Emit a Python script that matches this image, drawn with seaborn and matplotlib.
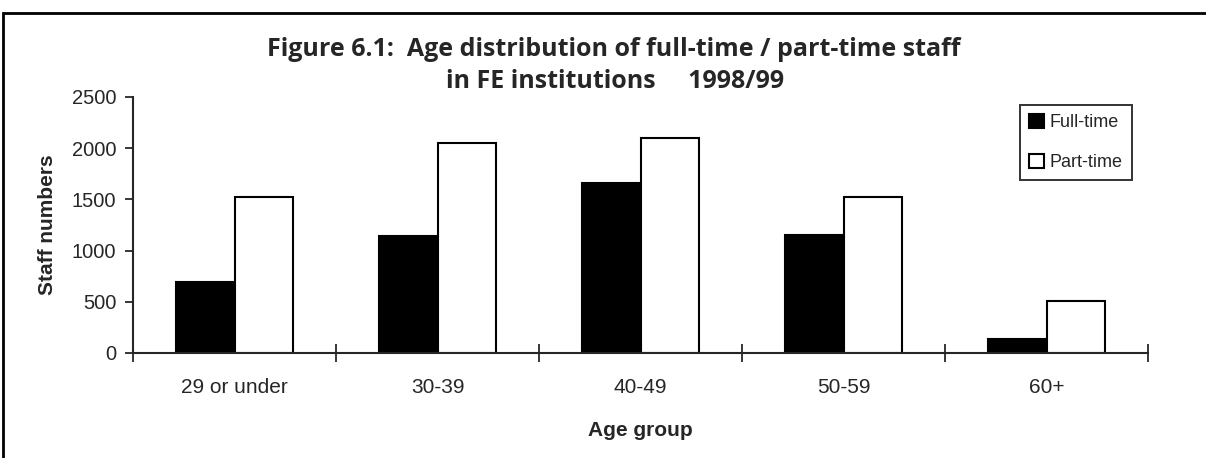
import matplotlib
matplotlib.use('Agg')

import pandas as pd
import matplotlib.pyplot as plt
import seaborn as sns
from matplotlib.patches import Rectangle

# --------------------------------------------------
# Data
# --------------------------------------------------
age_groups = ['29 or under', '30-39', '40-49', '50-59', '60+']
full_time = [690, 1140, 1660, 1155, 140]
part_time = [1520, 2050, 2100, 1520, 505]
series = ['Full-time', 'Part-time']

data = pd.DataFrame({
    'Age group': age_groups * 2,
    'Staff numbers': full_time + part_time,
    'Type': [series[0]] * len(age_groups) + [series[1]] * len(age_groups),
})

sns.set_style('ticks')
plt.rcParams['font.family'] = ['Liberation Sans', 'DejaVu Sans']

# --------------------------------------------------
# Figure
# --------------------------------------------------
W, H = 1206, 458
fig = plt.figure(figsize=(W / 100, H / 100), dpi=100)
ax = fig.add_axes([133 / W, 1 - 353 / H, (1148 - 133) / W, (353 - 97) / H])

sns.barplot(
    data=data,
    x='Age group',
    y='Staff numbers',
    hue='Type',
    order=age_groups,
    hue_order=series,
    palette=['black', 'white'],
    edgecolor='black',
    linewidth=1.5,
    width=0.575,
    ax=ax
)

ax.set_ylim(0, 2500)
ax.set_xlim(-0.5, len(age_groups) - 0.5)
ax.set_yticks([0, 500, 1000, 1500, 2000, 2500])
ax.tick_params(axis='y', labelsize=14.5, length=6, width=1.3, direction='out', pad=6)

# labels at category centres, tick marks at the boundaries
ax.set_xticks(range(len(age_groups)))
ax.set_xticklabels(age_groups)
ax.tick_params(axis='x', which='major', length=0, labelsize=15, pad=18)
ax.set_xticks([i - 0.5 for i in range(len(age_groups) + 1)], minor=True)
ax.tick_params(axis='x', which='minor', length=13, width=1.3, direction='inout')

for side in ['top', 'right']:
    ax.spines[side].set_visible(False)
for side in ['left', 'bottom']:
    ax.spines[side].set_linewidth(1.5)

ax.set_xlabel('Age group', fontsize=15, fontweight='bold', labelpad=17)
ax.set_ylabel('Staff numbers', fontsize=15, fontweight='bold', labelpad=11)

leg = ax.legend(
    loc='upper right',
    bbox_to_anchor=(1132 / W, 1 - 105 / H),
    bbox_transform=fig.transFigure,
    fontsize=13,
    frameon=True,
    fancybox=False,
    handlelength=0.8,
    handleheight=0.8,
    handletextpad=0.35,
    labelspacing=1.25,
    borderpad=0.5,
    borderaxespad=0,
    title=None,
)
leg.get_frame().set_edgecolor('black')
leg.get_frame().set_linewidth(1.4)

title_font = ['Open Sans', 'DejaVu Sans']
fig.text(614 / W, 1 - 50 / H, 'Figure 6.1:  Age distribution of full-time / part-time staff',
         ha='center', va='center', fontsize=18, fontweight='bold', family=title_font)
fig.text(615 / W, 1 - 82 / H, 'in FE institutions     1998/99',
         ha='center', va='center', fontsize=18, fontweight='bold', family=title_font)

# outer frame around the chart
fig.patches.append(Rectangle((3 / W, -0.1), 1.2, 1 - 13 / H + 0.1,
                             transform=fig.transFigure, fill=False,
                             edgecolor='black', linewidth=2))

fig.savefig('out.png', dpi=100)
plt.close(fig)
